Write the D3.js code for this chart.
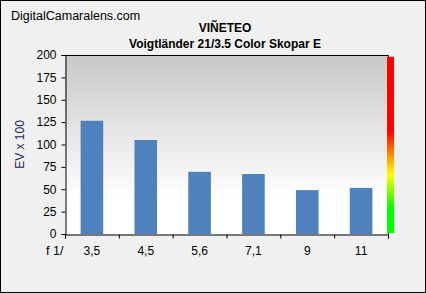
<!DOCTYPE html>
<html>
<head>
<meta charset="utf-8">
<script src="https://cdn.jsdelivr.net/npm/d3@7"></script>
<style>
  body { margin: 0; background: #fff; }
  text { font-family: "Liberation Sans", Arial, sans-serif; }
</style>
</head>
<body>
<svg id="chart"></svg>
<script>
var apertures = ["3,5", "4,5", "5,6", "7,1", "9", "11"];
var vignetting = [126.5, 105, 69.5, 67, 49, 51.5];
var yTicks = [0, 25, 50, 75, 100, 125, 150, 175, 200];

var width = 426, height = 293;
var margins = {top: 55, bottom: 59, left: 65, right: 38};
var font = "'Liberation Sans', Arial, sans-serif";

var svg = d3.select("#chart")
  .attr("width", width)
  .attr("height", height);

var defs = svg.append("defs");

var bgGrad = defs.append("linearGradient")
  .attr("id", "plotBg")
  .attr("x1", 0).attr("y1", 0).attr("x2", 0).attr("y2", 1);
bgGrad.append("stop").attr("offset", "0%").attr("stop-color", "#c8c8c8");
bgGrad.append("stop").attr("offset", "80%").attr("stop-color", "#ffffff");
bgGrad.append("stop").attr("offset", "100%").attr("stop-color", "#ffffff");

var heatGrad = defs.append("linearGradient")
  .attr("id", "heat")
  .attr("x1", 0).attr("y1", 0).attr("x2", 0).attr("y2", 1);
heatGrad.append("stop").attr("offset", "0%").attr("stop-color", "#ff0000");
heatGrad.append("stop").attr("offset", "42%").attr("stop-color", "#ff0000");
heatGrad.append("stop").attr("offset", "54%").attr("stop-color", "#ff8000");
heatGrad.append("stop").attr("offset", "67%").attr("stop-color", "#ffff00");
heatGrad.append("stop").attr("offset", "86%").attr("stop-color", "#00ff00");
heatGrad.append("stop").attr("offset", "100%").attr("stop-color", "#00ff00");

// outer frame
svg.append("rect")
  .attr("x", 0.5).attr("y", 0.5)
  .attr("width", width - 1).attr("height", height - 1)
  .attr("fill", "#f0f0f0")
  .attr("stroke", "#000");

var plotW = width - margins.left - margins.right;
var plotH = height - margins.top - margins.bottom;

var xScale = d3.scaleBand()
  .domain(apertures)
  .range([margins.left, margins.left + plotW])
  .paddingInner(0.58)
  .paddingOuter(0.29);

var xBounds = d3.scaleLinear()
  .domain([0, apertures.length])
  .range([margins.left, margins.left + plotW]);

var yScale = d3.scaleLinear()
  .domain([0, 200])
  .range([margins.top + plotH, margins.top]);

svg.append("rect")
  .attr("x", margins.left).attr("y", margins.top)
  .attr("width", plotW).attr("height", plotH)
  .attr("fill", "url(#plotBg)");

svg.selectAll(".bar")
  .data(vignetting)
  .enter()
  .append("rect")
  .attr("class", "bar")
  .attr("x", function(d, i) { return xScale(apertures[i]); })
  .attr("width", xScale.bandwidth())
  .attr("y", function(d) { return yScale(d); })
  .attr("height", function(d) { return yScale(0) - yScale(d); })
  .attr("fill", "#4f81bd");

// plot frame (top + right lines)
svg.append("path")
  .attr("d", "M" + margins.left + "," + (margins.top + 0.5) + "H" + (margins.left + plotW + 0.5) + "V" + (margins.top + plotH))
  .attr("fill", "none")
  .attr("stroke", "#000");

// colour scale strip on the right, drawn over the frame
svg.append("rect")
  .attr("x", margins.left + plotW - 1)
  .attr("y", yScale(198))
  .attr("width", 7)
  .attr("height", yScale(1) - yScale(198))
  .attr("fill", "url(#heat)");

var yAxis = d3.axisLeft(yScale)
  .tickValues(yTicks)
  .tickSize(4)
  .tickPadding(5);

var gy = svg.append("g")
  .attr("transform", "translate(" + (margins.left + 0.5) + ",0)")
  .call(yAxis);
gy.selectAll("text").attr("font-size", 12).attr("fill", "#000").style("font-family", font);
gy.selectAll("line, path").attr("stroke", "#000");

var xAxis = d3.axisBottom(xBounds)
  .tickValues(d3.range(apertures.length + 1))
  .tickSize(4)
  .tickFormat("");

var gx = svg.append("g")
  .attr("transform", "translate(0," + (margins.top + plotH + 0.5) + ")")
  .call(xAxis);
gx.selectAll("line, path").attr("stroke", "#000");

svg.selectAll(".xlab")
  .data(apertures)
  .enter()
  .append("text")
  .attr("class", "xlab")
  .attr("x", function(d) { return xScale(d) + xScale.bandwidth() / 2; })
  .attr("y", 255)
  .attr("text-anchor", "middle")
  .attr("font-size", 12)
  .attr("fill", "#000")
  .text(function(d) { return d; });

svg.append("text")
  .attr("x", 46).attr("y", 255)
  .attr("font-size", 12.5)
  .attr("fill", "#000")
  .text("f 1/");

svg.append("text")
  .attr("transform", "translate(24," + (margins.top + plotH / 2) + ") rotate(-90)")
  .attr("text-anchor", "middle")
  .attr("font-size", 12)
  .attr("fill", "#1a1a5a")
  .text("EV x 100");

svg.append("text")
  .attr("x", 11).attr("y", 20)
  .attr("font-size", 12.5)
  .attr("fill", "#000")
  .text("DigitalCamaralens.com");

svg.append("text")
  .attr("x", 225).attr("y", 32)
  .attr("text-anchor", "middle")
  .attr("font-size", 12)
  .attr("font-weight", "bold")
  .attr("fill", "#000")
  .text("VIÑETEO");

svg.append("text")
  .attr("x", 225).attr("y", 48)
  .attr("text-anchor", "middle")
  .attr("font-size", 12)
  .attr("font-weight", "bold")
  .attr("fill", "#000")
  .text("Voigtländer 21/3.5 Color Skopar E");
</script>
</body>
</html>
